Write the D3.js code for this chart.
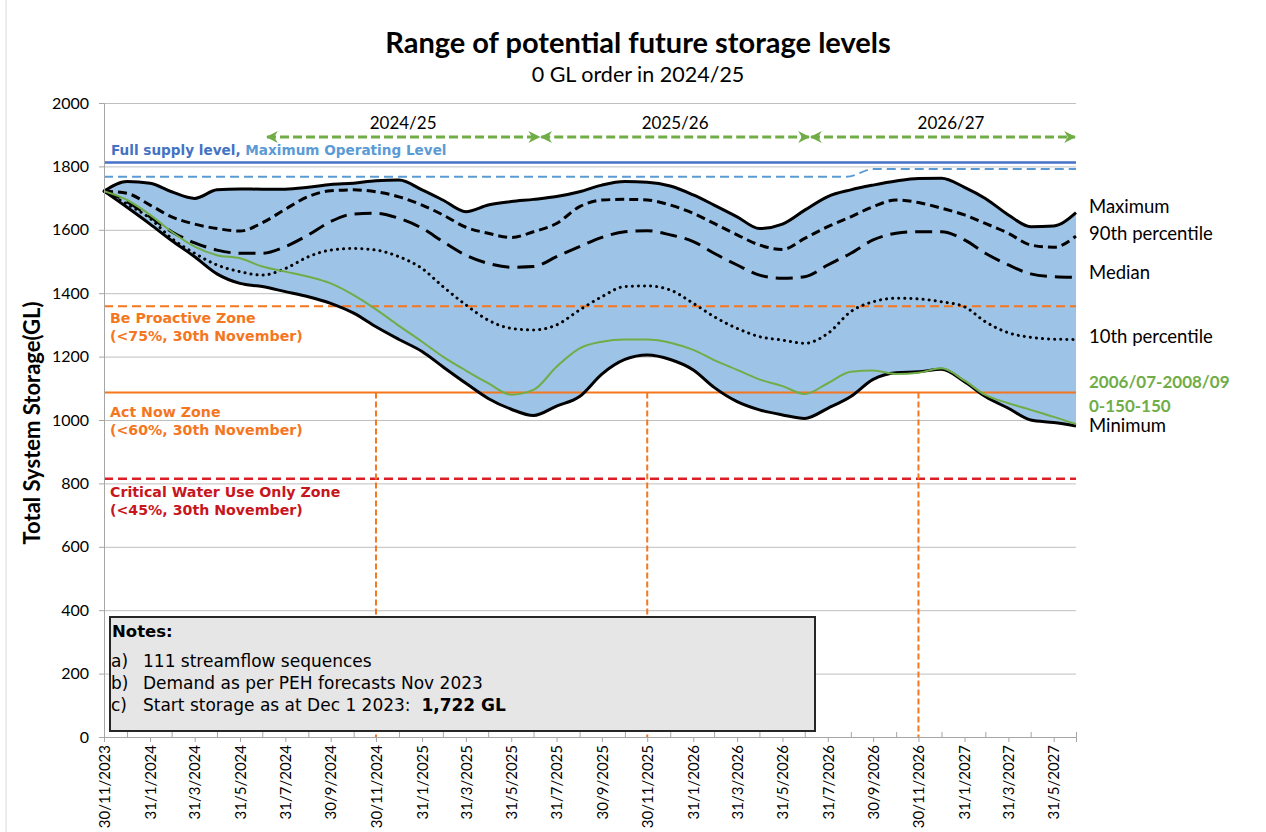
<!DOCTYPE html>
<html>
<head>
<meta charset="utf-8">
<script src="https://d3js.org/d3.v7.min.js"></script>
<style>
  body { margin: 0; background: #fff; }
  svg { display: block; }
</style>
</head>
<body>
<svg width="1266" height="832"></svg>
<script>
// month-end dates of the simulation
var monthEnds = ["2023-11-30","2023-12-31","2024-01-31","2024-02-29","2024-03-31","2024-04-30",
  "2024-05-31","2024-06-30","2024-07-31","2024-08-31","2024-09-30","2024-10-31",
  "2024-11-30","2024-12-31","2025-01-31","2025-02-28","2025-03-31","2025-04-30",
  "2025-05-31","2025-06-30","2025-07-31","2025-08-31","2025-09-30","2025-10-31",
  "2025-11-30","2025-12-31","2026-01-31","2026-02-28","2026-03-31","2026-04-30",
  "2026-05-31","2026-06-30","2026-07-31","2026-08-31","2026-09-30","2026-10-31",
  "2026-11-30","2026-12-31","2027-01-31","2027-02-28","2027-03-31","2027-04-30",
  "2027-05-31","2027-06-30"];

// storage (GL)
var maxStorage = [1722,1752,1747,1720,1699,1726,1729,1728,1728,1734,1743,1747,
  1755,1757,1726,1694,1657,1678,1689,1696,1705,1720,1741,1752,
  1750,1738,1710,1678,1641,1604,1618,1662,1705,1726,1741,1754,
  1762,1763,1734,1699,1647,1610,1612,1654];
var p90Storage = [1722,1715,1678,1641,1618,1604,1596,1622,1665,1705,1723,1726,
  1720,1704,1678,1647,1608,1589,1576,1594,1620,1673,1694,1696,
  1694,1678,1652,1620,1584,1552,1538,1573,1610,1641,1673,1694,
  1686,1668,1647,1620,1589,1552,1545,1580];
var medianStorage = [1722,1689,1641,1594,1559,1536,1526,1526,1547,1584,1626,1650,
  1652,1636,1605,1563,1520,1494,1482,1484,1515,1547,1576,1594,
  1597,1584,1563,1526,1489,1457,1447,1452,1489,1526,1568,1589,
  1594,1594,1568,1526,1489,1461,1452,1450];
var p10Storage = [1722,1681,1636,1573,1526,1489,1468,1457,1478,1515,1536,1541,
  1536,1515,1478,1421,1363,1315,1289,1284,1300,1347,1389,1421,
  1423,1410,1368,1326,1289,1263,1252,1242,1273,1342,1373,1384,
  1382,1373,1357,1310,1275,1261,1255,1254];
var minStorage = [1722,1671,1618,1566,1515,1461,1431,1421,1405,1389,1368,1337,
  1294,1254,1216,1168,1116,1068,1034,1014,1044,1074,1145,1191,
  1205,1191,1158,1103,1058,1032,1016,1005,1037,1074,1128,1149,
  1152,1160,1121,1074,1037,1000,992,981];
var droughtStorage = [1722,1694,1647,1594,1547,1520,1510,1484,1468,1452,1431,1394,
  1349,1297,1247,1200,1156,1116,1080,1095,1168,1226,1247,1254,
  1254,1244,1221,1189,1158,1128,1107,1082,1116,1152,1156,1145,
  1149,1163,1124,1079,1053,1032,1010,987];

// reference levels
var fullSupply = 1812;
var molDates = ["2023-11-30","2026-08-25","2026-10-01","2027-06-30"];
var molValues = [1767,1767,1792,1792];
var zoneNames = ["Be Proactive Zone","Act Now Zone","Critical Water Use Only Zone"];
var zoneNotes = ["(<75%, 30th November)","(<60%, 30th November)","(<45%, 30th November)"];
var zoneLevels = [1359,1087,815];
var checkDates = ["2024-11-30","2025-11-30","2026-11-30"];

// water years
var waterYears = ["2024/25","2025/26","2026/27"];
var waterYearStart = ["2024-07-05","2025-07-09","2026-07-07"];
var waterYearEnd = ["2025-07-09","2026-07-07","2027-06-30"];

var yTicks = [0,200,400,600,800,1000,1200,1400,1600,1800,2000];

var parseDate = d3.timeParse("%Y-%m-%d");
var fmt = d3.timeFormat("%-d/%-m/%Y");
var dates = monthEnds.map(parseDate);

var svg = d3.select("svg");
var plotLeft = 104, plotRight = 1076, plotTop = 103, plotBottom = 737;

var x = d3.scaleTime().domain([dates[0], dates[dates.length - 1]]).range([plotLeft, plotRight]);
var y = d3.scaleLinear().domain([0, 2000]).range([plotBottom, plotTop]);

var orange = "#f4771f", red = "#dc1f26", green = "#70ad47";
var verdana = "'DejaVu Sans', Verdana, sans-serif";
var calibri = "Lato, Calibri, sans-serif";

// chart border
svg.append("line").attr("x1", 6).attr("x2", 6).attr("y1", 0).attr("y2", 832)
  .attr("stroke", "#d9d9d9").attr("stroke-width", 1);

// gridlines
svg.append("g").selectAll("line").data(yTicks.slice(1)).enter().append("line")
  .attr("x1", plotLeft).attr("x2", plotRight)
  .attr("y1", function(d) { return y(d) + 0.5; }).attr("y2", function(d) { return y(d) + 0.5; })
  .attr("stroke", "#bfbfbf").attr("stroke-width", 1);

// range band
var band = dates.map(function(d, i) { return {date: d, lo: minStorage[i], hi: maxStorage[i]}; });
svg.append("path").datum(band)
  .attr("fill", "#9dc3e6")
  .attr("d", d3.area().curve(d3.curveMonotoneX)
    .x(function(d) { return x(d.date); })
    .y0(function(d) { return y(d.lo); })
    .y1(function(d) { return y(d.hi); }));

// full supply and maximum operating level
svg.append("line").attr("x1", plotLeft).attr("x2", plotRight)
  .attr("y1", y(fullSupply)).attr("y2", y(fullSupply))
  .attr("stroke", "#4472c4").attr("stroke-width", 2.5);
var mol = molDates.map(function(d, i) { return {date: parseDate(d), v: molValues[i]}; });
svg.append("path").datum(mol)
  .attr("fill", "none").attr("stroke", "#5b9bd5").attr("stroke-width", 2)
  .attr("stroke-dasharray", "9 5")
  .attr("d", d3.line().curve(d3.curveMonotoneX)
    .x(function(d) { return x(d.date); }).y(function(d) { return y(d.v); }));

// zone thresholds
zoneLevels.forEach(function(v, i) {
  svg.append("line").attr("x1", plotLeft).attr("x2", plotRight)
    .attr("y1", y(v)).attr("y2", y(v))
    .attr("stroke", i == 2 ? red : orange)
    .attr("stroke-width", i == 2 ? 2.5 : 2)
    .attr("stroke-dasharray", i == 1 ? null : "9 5");
});

// 30 November check lines
svg.append("g").selectAll("line").data(checkDates).enter().append("line")
  .attr("x1", function(d) { return x(parseDate(d)); })
  .attr("x2", function(d) { return x(parseDate(d)); })
  .attr("y1", y(zoneLevels[1])).attr("y2", y(0))
  .attr("stroke", orange).attr("stroke-width", 2).attr("stroke-dasharray", "6 3");

// storage traces
function trace(values, color, width, dash, cap) {
  svg.append("path").datum(values)
    .attr("fill", "none").attr("stroke", color).attr("stroke-width", width)
    .attr("stroke-dasharray", dash).attr("stroke-linecap", cap || "butt")
    .attr("stroke-linejoin", "round")
    .attr("d", d3.line().curve(d3.curveMonotoneX)
      .x(function(d, i) { return x(dates[i]); })
      .y(function(d) { return y(d); }));
}
trace(p90Storage, "#000", 3, "9 5");
trace(medianStorage, "#000", 3, "17 8");
trace(p10Storage, "#000", 3, "0.1 6", "round");
trace(maxStorage, "#000", 3, null);
trace(minStorage, "#000", 3, null);
trace(droughtStorage, green, 2, null);

// axes
var yAxis = svg.append("g").attr("transform", "translate(" + plotLeft + ",0)")
  .call(d3.axisLeft(y).tickValues(yTicks).tickFormat(d3.format("d")).tickSize(5).tickPadding(10));
yAxis.selectAll("text").attr("font-family", calibri).attr("font-size", 16).attr("fill", "#000");

var majorDates = dates.filter(function(d, i) { return i % 2 == 0; });
var minorDates = dates.filter(function(d, i) { return i % 2 == 1; });
var xAxis = svg.append("g").attr("transform", "translate(0," + plotBottom + ")")
  .call(d3.axisBottom(x).tickValues(majorDates).tickFormat(fmt).tickSize(5));
xAxis.selectAll("text")
  .attr("font-family", calibri).attr("font-size", 15).attr("fill", "#000")
  .attr("transform", "rotate(-90)").attr("text-anchor", "end")
  .attr("x", -8).attr("y", 0).attr("dy", "0.35em");
svg.append("g").attr("transform", "translate(0," + plotBottom + ")")
  .call(d3.axisBottom(x).tickValues(minorDates).tickFormat("").tickSize(-5));
svg.selectAll(".domain, .tick line").attr("stroke", "#a6a6a6");

// water year arrows
var defs = svg.append("defs");
["start", "end"].forEach(function(k) {
  defs.append("marker").attr("id", "arr-" + k)
    .attr("viewBox", "0 0 10 10").attr("refX", 9).attr("refY", 5)
    .attr("markerWidth", 4).attr("markerHeight", 4)
    .attr("orient", k == "end" ? "auto" : "auto-start-reverse")
    .append("path").attr("d", "M0,0 L10,5 L0,10 L3,5 Z").attr("fill", green);
});
var arrowY = 137;
waterYears.forEach(function(lab, i) {
  var x0 = x(parseDate(waterYearStart[i])), x1 = x(parseDate(waterYearEnd[i]));
  svg.append("line").attr("x1", x0 + 1).attr("x2", x1 - 1)
    .attr("y1", arrowY).attr("y2", arrowY)
    .attr("stroke", green).attr("stroke-width", 3).attr("stroke-dasharray", "9 4")
    .attr("marker-start", "url(#arr-start)").attr("marker-end", "url(#arr-end)");
  svg.append("text").attr("x", (x0 + x1) / 2 + (i == 2 ? 8 : 0)).attr("y", 129)
    .attr("text-anchor", "middle").attr("font-family", calibri).attr("font-size", 17)
    .text(lab);
});

// level labels
var lvl = svg.append("text").attr("x", 111).attr("y", 155)
  .attr("font-family", verdana).attr("font-weight", "bold").attr("font-size", 13.6);
lvl.append("tspan").attr("fill", "#4472c4").text("Full supply level, ");
lvl.append("tspan").attr("fill", "#5b9bd5").text("Maximum Operating Level");

var zoneBase = [323, 417, 497];
zoneNames.forEach(function(n, i) {
  var t = svg.append("text").attr("font-family", verdana).attr("font-weight", "bold")
    .attr("font-size", 14.2).attr("fill", i == 2 ? "#c8161d" : orange);
  t.append("tspan").attr("x", 110).attr("y", zoneBase[i]).text(n);
  t.append("tspan").attr("x", 110).attr("y", zoneBase[i] + 18).text(zoneNotes[i]);
});

// notes box
svg.append("rect").attr("x", 110).attr("y", 617).attr("width", 705).attr("height", 114)
  .attr("fill", "#e7e6e6").attr("stroke", "#262626").attr("stroke-width", 2);
svg.append("text").attr("x", 112).attr("y", 637).attr("font-family", verdana)
  .attr("font-weight", "bold").attr("font-size", 16.5).text("Notes:");
var notes = [["a)", "111 streamflow sequences", ""],
             ["b)", "Demand as per PEH forecasts Nov 2023", ""],
             ["c)", "Start storage as at Dec 1 2023:  ", "1,722 GL"]];
notes.forEach(function(n, i) {
  var yy = 667 + i * 22;
  svg.append("text").attr("x", 111).attr("y", yy).attr("font-family", verdana)
    .attr("font-size", 17).text(n[0]);
  var t = svg.append("text").attr("x", 143).attr("y", yy).attr("font-family", verdana)
    .attr("font-size", 17).attr("xml:space", "preserve");
  t.append("tspan").text(n[1]);
  if (n[2]) t.append("tspan").attr("font-weight", "bold").text(n[2]);
});

// series labels on the right
var seriesLabels = [["Maximum", 213, "#000", false], ["90th percentile", 240, "#000", false],
  ["Median", 279, "#000", false], ["10th percentile", 343, "#000", false],
  ["2006/07-2008/09", 388, green, true], ["0-150-150", 412, green, true],
  ["Minimum", 432, "#000", false]];
seriesLabels.forEach(function(s) {
  svg.append("text").attr("x", 1089).attr("y", s[1]).attr("font-family", calibri)
    .attr("font-size", s[3] ? 17 : 18.5).attr("fill", s[2]).attr("font-weight", s[3] ? "bold" : "normal")
    .text(s[0]);
});

// titles
svg.append("text").attr("x", 638).attr("y", 53).attr("text-anchor", "middle")
  .attr("font-family", calibri).attr("font-weight", "bold").attr("font-size", 29)
  .text("Range of potential future storage levels");
svg.append("text").attr("x", 638).attr("y", 82).attr("text-anchor", "middle")
  .attr("font-family", calibri).attr("font-size", 21.5)
  .text("0 GL order in 2024/25");
svg.append("text").attr("transform", "translate(40,423) rotate(-90)")
  .attr("text-anchor", "middle").attr("font-family", calibri)
  .attr("font-weight", "bold").attr("font-size", 22)
  .text("Total System Storage(GL)");
</script>
</body>
</html>
